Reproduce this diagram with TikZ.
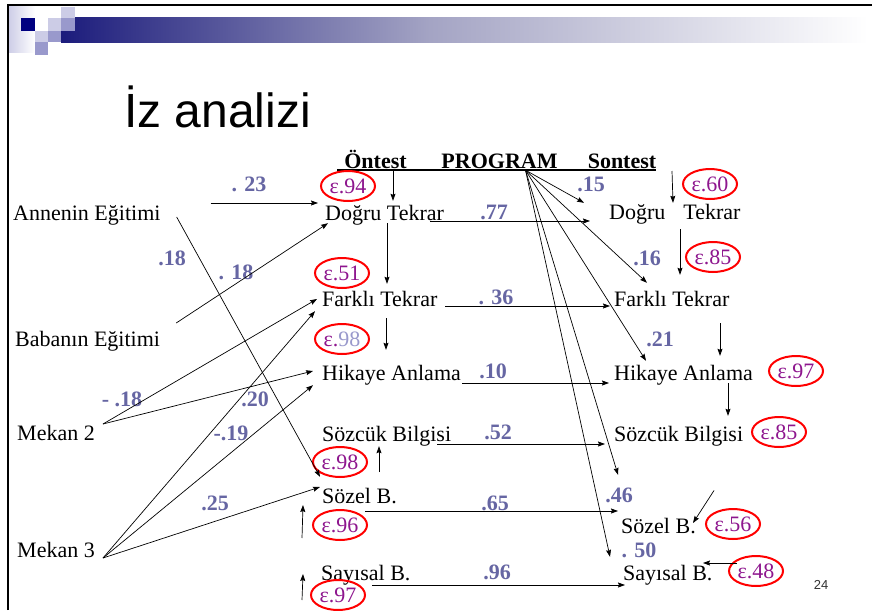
\documentclass[tikz,border=0pt]{standalone}
\usepackage{fontspec}
\setmainfont{Liberation Serif}
\newfontfamily\slidesans{Liberation Sans}
\usetikzlibrary{shapes}
\usetikzlibrary{arrows.meta}
\usetikzlibrary{calc}
\definecolor{slidenavy}{HTML}{000080}
\definecolor{slidelight}{HTML}{CCCCE6}
\definecolor{slidemid}{HTML}{9999CC}
\definecolor{barnavy}{HTML}{1C1C7C}
\definecolor{barmid}{HTML}{A4A4C4}
\definecolor{coefblue}{HTML}{6666A3}
\definecolor{epspurple}{HTML}{8E168E}
\definecolor{epspale}{HTML}{9999CC}
\tikzset{
	node_var/.style = {
		anchor=west,
		inner sep=1pt,
		text height=17pt,
		text depth=1pt,
		font=\fontsize{22}{26}\selectfont
	},
	node_head/.style = {
		node_var,
		anchor=center,
		font=\fontsize{22}{26}\selectfont\bfseries
	},
	node_coef/.style = {
		anchor=center,
		inner sep=1pt,
		text=coefblue,
		font=\fontsize{22}{26}\selectfont\bfseries
	},
	node_eps/.style = {
		ellipse,
		draw=red,
		line width=2pt,
		inner sep=0pt,
		minimum width=54pt,
		minimum height=30pt,
		text=epspurple,
		font=\fontsize{22}{26}\selectfont
	},
	node_title/.style = {
		anchor=base west,
		inner sep=0pt,
		font=\slidesans\fontsize{48}{56}\selectfont
	},
	arrow_line/.style = {
		-{Stealth[length=7pt,width=5pt,inset=1pt]},
		line width=0.7pt
	},
}
\begin{document}
\begin{tikzpicture}[x=1pt,y=-1pt]
\useasboundingbox (0,0) rectangle (872,610);
\fill[white] (0,0) rectangle (872,610);
% slide header
\shade[left color=slidelight,right color=white] (8,7) rectangle (35,53);
\shade[left color=barnavy,right color=barmid] (61,18) rectangle (430,43);
\shade[left color=barmid,right color=white] (430,18) rectangle (868,43);
\fill[slidenavy] (21,18) rectangle (35,31);
\fill[slidelight] (61,7) rectangle (75,18);
\fill[slidelight] (48,18) rectangle (61,31);
\fill[slidemid] (61,18) rectangle (75,31);
\fill[slidelight] (35,31) rectangle (48,42);
\fill[slidemid] (48,31) rectangle (61,42);
\fill[slidemid] (35,42) rectangle (48,55);
\draw[line width=2.5pt] (8,610) -- (8,5) -- (872,5);
\node[node_title] (title) at (124,127) {İz analizi};
% column heads
\node[node_head] (h_pre) at (375.5,160) {Öntest};
\node[node_head] (h_prog) at (499.5,160) {PROGRAM};
\node[node_head] (h_post) at (622,160) {Sontest};
\draw[line width=1.5pt] ($(h_pre.south west)+(-6,0)$) -- ($(h_post.south east)+(-1,0)$);
\coordinate (prog_o) at ($(h_prog.south)+(26,0)$);
% variables
\node[node_var] (annen) at (12,212) {Annenin Eğitimi};
\node[node_var] (baba) at (14,338) {Babanın Eğitimi};
\node[node_var] (mekan2) at (16,432) {Mekan 2};
\node[node_var] (mekan3) at (16,549) {Mekan 3};
\node[node_var] (pre_dt) at (324,212) {Doğru Tekrar};
\node[node_var] (pre_ft) at (321,298) {Farklı Tekrar};
\node[node_var] (pre_ha) at (321,372) {Hikaye Anlama};
\node[node_var] (pre_sb) at (321,433) {Sözcük Bilgisi};
\node[node_var] (pre_sz) at (321,495) {Sözel B.};
\node[node_var] (pre_sy) at (320,572) {Sayısal B.};
\node[node_var] (post_dt) at (608,211) {Doğru\hspace{18pt}Tekrar};
\node[node_var] (post_ft) at (613,298) {Farklı Tekrar};
\node[node_var] (post_ha) at (613,372) {Hikaye Anlama};
\node[node_var] (post_sb) at (613,433) {Sözcük Bilgisi};
\node[node_var] (post_sz) at (620,525) {Sözel B.};
\node[node_var] (post_sy) at (622,572) {Sayısal B.};
% errors
\node[node_eps] (e_pdt) at (348,186) {ε.94};
\node[node_eps] (e_pft) at (342,273) {ε.51};
\node[node_eps] (e_pha) at (342,339) {ε.\textcolor{epspale}{98}};
\node[node_eps] (e_psb) at (340,462) {ε.98};
\node[node_eps] (e_psz) at (340,525) {ε.96};
\node[node_eps] (e_psy) at (338,595) {ε.97};
\node[node_eps] (e_qdt) at (710,184) {ε.60};
\node[node_eps] (e_qft) at (713,257) {ε.85};
\node[node_eps] (e_qha) at (796,371) {ε.97};
\node[node_eps] (e_qsb) at (779,432) {ε.85};
\node[node_eps] (e_qsz) at (733,524) {ε.56};
\node[node_eps] (e_qsy) at (756,571) {ε.48};
% coefficients
\node[node_coef] (c_23) at (249,184) {. 23};
\node[node_coef] (c_18a) at (172,258) {.18};
\node[node_coef] (c_18b) at (236,272) {. 18};
\node[node_coef] (c_18m) at (122,399) {- .18};
\node[node_coef] (c_20) at (255,399) {.20};
\node[node_coef] (c_19) at (231,433) {-.19};
\node[node_coef] (c_25) at (215,503) {.25};
\node[node_coef] (c_77) at (494,212) {.77};
\node[node_coef] (c_36) at (496,297) {. 36};
\node[node_coef] (c_10) at (493,371) {.10};
\node[node_coef] (c_52) at (498,432) {.52};
\node[node_coef] (c_65) at (495,503) {.65};
\node[node_coef] (c_96) at (497,572) {.96};
\node[node_coef] (c_15) at (591,184) {.15};
\node[node_coef] (c_16) at (647,258) {.16};
\node[node_coef] (c_21) at (660,339) {.21};
\node[node_coef] (c_46) at (619,495) {.46};
\node[node_coef] (c_50) at (639,550) {. 50};
\node[font=\slidesans\fontsize{13}{15}\selectfont, text=black!80] (page_no) at (821,585) {24};
% background paths
\draw[arrow_line] ($(annen.east)+(49,-9)$) -- ($(pre_dt.west)+(-6,-9)$);
\draw[arrow_line] ($(annen.east)+(15,5)$) -- ($(pre_sz.north west)+(-1,-8)$);
\draw[arrow_line] ($(baba.east)+(15,-15)$) -- ($(pre_dt.south west)+(4,1)$);
\draw[arrow_line] ($(mekan2.east)+(7,-8)$) -- ($(pre_ft.west)+(-4,1)$);
\draw[arrow_line] ($(mekan2.east)+(7,-8)$) -- ($(pre_ha.west)+(-8,-1)$);
\draw[arrow_line] ($(mekan3.east)+(7,9)$) -- ($(pre_ft.south west)+(-6,3)$);
\draw[arrow_line] ($(mekan3.east)+(7,9)$) -- ($(pre_ha.south west)+(-8,3)$);
\draw[arrow_line] ($(mekan3.east)+(7,9)$) -- ($(pre_sz.west)+(-1,-8)$);
% pretest paths
\draw[arrow_line] ($(h_pre.south)+(17.5,0)$) -- ($(pre_dt.north west)+(69,-1)$);
\draw[arrow_line] ($(pre_dt.south west)+(63,1)$) -- ($(pre_ft.north west)+(66,-4)$);
\draw[arrow_line] ($(pre_ft.south west)+(65,10)$) -- ($(pre_ha.north west)+(65,-12)$);
\draw[arrow_line] ($(pre_sb.south west)+(58,29)$) -- ($(pre_sb.south west)+(58,3)$);
\draw[arrow_line] ($(e_psz.west)+(-10,13)$) -- ($(pre_sz.west)+(-18,10)$);
\draw[arrow_line] ($(e_psy.west)+(-8,5)$) -- ($(pre_sy.west)+(-17,2)$);
% pre to post
\draw[arrow_line] ($(pre_dt.west)+(106,9)$) -- ($(post_dt.west)+(-18,10)$);
\draw[arrow_line] ($(pre_ft.west)+(124,8)$) -- ($(post_ft.west)+(-3,8)$);
\draw[arrow_line] ($(pre_ha.west)+(141,11)$) -- ($(post_ha.west)+(-4,11)$);
\draw[arrow_line] ($(pre_sb.west)+(116,11)$) -- ($(post_sb.west)+(-8,11)$);
\draw[arrow_line] ($(pre_sz.west)+(44,16)$) -- ($(post_sz.west)+(-2,-14)$);
\draw[arrow_line] ($(pre_sy.west)+(52,13)$) -- ($(post_sy.west)+(3,13)$);
% program paths
\draw[arrow_line] (prog_o) -- ($(post_dt.north west)+(-24,2)$);
\draw[arrow_line] (prog_o) -- ($(post_ft.north west)+(34,-5)$);
\draw[arrow_line] (prog_o) -- ($(post_ha.north west)+(33,-1)$);
\draw[arrow_line] (prog_o) -- ($(post_sz.north west)+(-2,-40)$);
\draw[arrow_line] (prog_o) -- ($(post_sy.north west)+(-12,-5)$);
% posttest paths
\draw[arrow_line] ($(e_qdt.west)+(-10,-13)$) -- ($(post_dt.north west)+(65,2)$);
\draw[arrow_line] ($(post_dt.south west)+(72,8)$) -- ($(post_ft.north west)+(67,-13)$);
\draw[arrow_line] ($(post_ft.south west)+(107,15)$) -- ($(post_ha.north west)+(107,-6)$);
\draw[arrow_line] ($(post_ha.south west)+(115,1)$) -- ($(post_sb.north west)+(115,-7)$);
\draw[arrow_line] ($(e_qsz.north)+(-19,-17.5)$) -- ($(post_sz.west)+(73,-2)$);
\draw[arrow_line] ($(e_qsy.west)+(9,-8)$) -- ($(post_sy.west)+(81,-9)$);
\end{tikzpicture}
\end{document}
